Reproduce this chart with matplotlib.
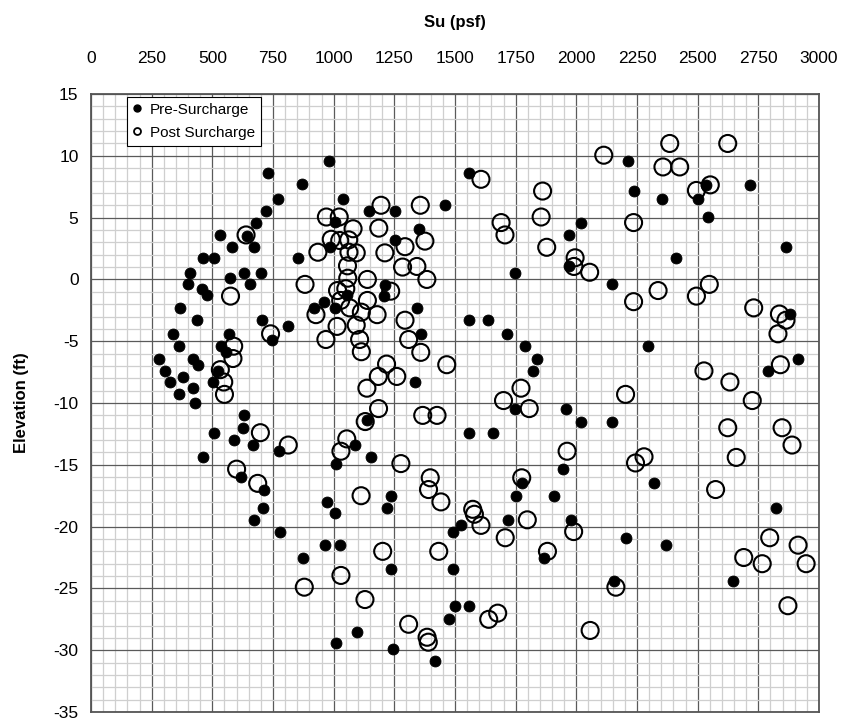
import numpy as np
import matplotlib.pyplot as plt
from matplotlib.lines import Line2D
from matplotlib.ticker import MultipleLocator

plt.rcParams['font.family'] = ['Liberation Sans', 'DejaVu Sans']
plt.rcParams['axes.unicode_minus'] = False

# Pre-Surcharge (filled) - Su (psf), elevation (ft)
pre_su = [982, 730, 870, 770, 720, 680, 530, 642, 582, 670, 460, 507, 852, 985,
          408, 400, 572, 630, 700, 657, 459, 479, 1037, 1146, 1253, 1459, 1007,
          1351, 1253, 1556, 1213, 1208, 1057, 961, 918, 1004, 1342, 703, 813, 747,
          1360, 1556, 1635, 1334, 2019, 1969, 1747, 1969, 2213, 2236, 2353, 2536,
          2500, 2717, 2543, 2411, 2866, 2147, 2879, 2295, 2914, 2790, 2147, 2018,
          2321, 2824, 2205, 2371, 2154, 2646, 368, 435, 337, 361, 567, 536, 557,
          279, 419, 442, 305, 522, 378, 327, 501, 419, 361, 427, 632, 625, 508,
          591, 666, 773, 460, 618, 714, 707, 1008, 971, 1005, 673, 780, 964, 1028,
          872, 1008, 1714, 1789, 1838, 1820, 1748, 1956, 1137, 1089, 1154, 1556,
          1658, 1946, 1775, 1750, 1906, 1236, 1220, 1718, 1980, 1490, 1525, 1236,
          1490, 1865, 1500, 1559, 1474, 1096, 1243, 1418]
pre_elev = [9.6, 8.6, 7.7, 6.5, 5.5, 4.6, 3.6, 3.5, 2.6, 2.6, 1.7, 1.7, 1.7, 2.6,
            0.5, -0.4, 0.1, 0.5, 0.5, -0.4, -0.8, -1.3, 6.5, 5.55, 5.55, 6.0, 4.65,
            4.1, 3.15, 8.6, -0.45, -1.35, -1.3, -1.8, -2.3, -2.3, -2.3, -3.3, -3.75, -4.9,
            -4.4, -3.3, -3.3, -8.3, 4.6, 3.6, 0.55, 1.05, 9.6, 7.15, 6.5, 7.65,
            6.5, 7.65, 5.05, 1.7, 2.63, -0.4, -2.8, -5.4, -6.4, -7.4, -11.5, -11.5,
            -16.5, -18.5, -20.9, -21.5, -24.4, -24.4, -2.3, -3.3, -4.4, -5.4, -4.4, -5.4, -5.9,
            -6.4, -6.4, -6.9, -7.4, -7.4, -7.9, -8.3, -8.3, -8.8, -9.3, -10.0, -11.0, -12.0, -12.4,
            -13.0, -13.4, -13.9, -14.4, -16.0, -17.0, -18.5, -14.9, -18.0, -18.9, -19.5, -20.4, -21.5, -21.5,
            -22.5, -29.4, -4.4, -5.4, -6.4, -7.4, -10.45, -10.45, -11.4, -13.4, -14.4, -12.4,
            -12.4, -15.35, -16.5, -17.5, -17.5, -17.5, -18.5, -19.45, -19.45, -20.4, -19.9, -23.45,
            -23.45, -22.5, -26.4, -26.4, -27.5, -28.5, -29.9, -30.9]

# Post Surcharge (open)
post_su = [639, 935, 970, 575, 882, 1607, 1861, 1855, 1195, 1357, 1023, 1080, 1186,
           1376, 1294, 1211, 990, 1025, 1062, 1063, 1093, 1690, 1706, 1878, 1995, 1990,
           2055, 1284, 1343, 1057, 1384, 1139, 1058, 1016, 1050, 1235, 1139, 1029, 1066,
           1114, 927, 1179, 1294, 1014, 1093, 740, 968, 1107, 1309, 1114, 1359, 1466,
           1218, 1184, 1260, 1137, 2113, 2385, 2624, 2357, 2426, 2495, 2552, 2236, 2337,
           2548, 2495, 2236, 2731, 2837, 2864, 2831, 2841, 2526, 2633, 2725, 2203, 2624,
           2848, 2889, 2659, 2279, 2244, 2574, 2797, 2690, 2766, 2914, 2947, 2872, 2163,
           2057, 588, 585, 533, 547, 550, 698, 813, 600, 687, 879, 1030, 1772, 1700,
           1806, 1185, 1367, 1426, 1130, 1054, 1030, 1277, 1962, 1775, 1398, 1391, 1442,
           1113, 1573, 1580, 1607, 1798, 1989, 1707, 1202, 1433, 1881, 1129, 1639, 1676,
           1309, 1385, 1390]
post_elev = [3.6, 2.2, 5.05, -1.35, -0.4, 8.1, 7.15, 5.05, 6.0, 6.0, 5.05, 4.1, 4.15,
             3.1, 2.65, 2.15, 3.25, 3.15, 3.2, 2.2, 2.15, 4.6, 3.6, 2.6, 1.75, 1.05,
             0.58, 1.0, 1.05, 1.1, 0.0, 0.0, 0.1, -0.9, -0.75, -0.95, -1.7, -1.7, -2.3,
             -2.65, -2.85, -2.85, -3.3, -3.8, -3.7, -4.4, -4.86, -4.86, -4.86, -5.85, -5.9, -6.9,
             -6.85, -7.85, -7.85, -8.8, 10.05, 11.0, 11.0, 9.1, 9.1, 7.2, 7.65, 4.6, -0.9,
             -0.4, -1.35, -1.8, -2.3, -2.8, -3.3, -4.4, -6.9, -7.4, -8.3, -9.8, -9.3, -12.0,
             -12.0, -13.4, -14.4, -14.35, -14.85, -17.0, -20.9, -22.5, -23.0, -21.5, -23.0, -26.4, -24.9,
             -28.4, -5.4, -6.4, -7.3, -8.3, -9.3, -12.4, -13.4, -15.35, -16.5, -24.9, -23.95, -8.8, -9.8,
             -10.45, -10.45, -11.0, -11.0, -11.5, -12.9, -13.9, -14.9, -13.9, -16.05, -16.05, -17.0, -18.0,
             -17.5, -18.6, -19.0, -19.9, -19.45, -20.4, -20.9, -22.0, -22.0, -22.0, -25.9, -27.5, -27.0,
             -27.9, -28.95, -29.35]

x_ticks = np.arange(0, 3001, 250)
y_ticks = np.arange(-35, 16, 5)

fig = plt.figure(figsize=(8.45, 7.25), dpi=100)
ax = fig.add_axes([0.1077, 0.0179, 0.8615, 0.8524])

ax.scatter(pre_su, pre_elev, s=62, c='black', edgecolors='black', linewidths=0.6, zorder=3)
ax.scatter(post_su, post_elev, s=150, facecolors='none', edgecolors='black',
           linewidths=1.5, zorder=4)

ax.set_xlim(0, 3000)
ax.set_ylim(-35, 15)
ax.set_xticks(x_ticks)
ax.set_yticks(y_ticks)
ax.xaxis.set_minor_locator(MultipleLocator(50))
ax.yaxis.set_minor_locator(MultipleLocator(1))
ax.xaxis.tick_top()
ax.tick_params(which='both', length=0)
ax.tick_params(axis='x', pad=20, labelsize=12.5)
ax.tick_params(axis='y', pad=9, labelsize=12.5)

ax.grid(which='minor', color='#cfcfcf', linewidth=0.9, zorder=0)
ax.grid(which='major', color='#5a5a5a', linewidth=0.9, zorder=1)
ax.set_axisbelow(True)
for sp in ax.spines.values():
    sp.set_color('#555555')
    sp.set_linewidth(1.3)

fig.text(455 / 845, 1 - 22 / 725, 'Su (psf)', ha='center', va='center',
         fontsize=12, fontweight='bold')
fig.text(22 / 845, 1 - 403 / 725, 'Elevation (ft)', ha='center', va='center',
         rotation=90, fontsize=12, fontweight='bold')

handles = [Line2D([], [], marker='o', ls='none', color='black', markersize=5),
           Line2D([], [], marker='o', ls='none', mfc='none', mec='black',
                  markersize=5, mew=1.3)]
leg = ax.legend(handles, ['Pre-Surcharge', 'Post Surcharge'], loc='upper left',
                bbox_to_anchor=(0.049, 0.996), fontsize=11, frameon=True,
                fancybox=False, edgecolor='black', framealpha=1,
                handlelength=0.6, handletextpad=0.5, borderpad=0.4,
                labelspacing=0.6, borderaxespad=0)
leg.get_frame().set_linewidth(0.8)
leg.set_zorder(10)

fig.savefig('out.png', dpi=100)
